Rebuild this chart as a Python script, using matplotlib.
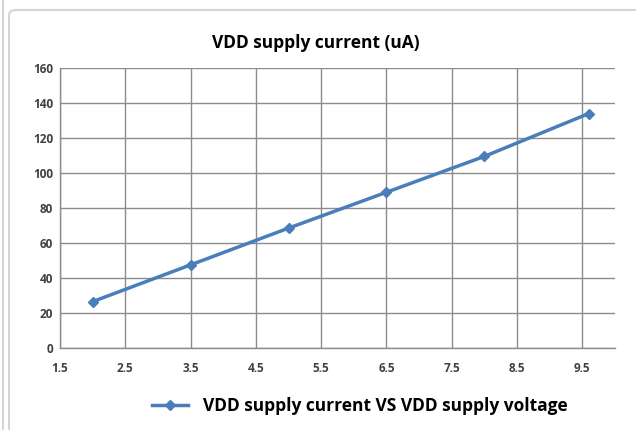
import matplotlib
matplotlib.use("Agg")
import matplotlib.pyplot as plt
from matplotlib.patches import FancyBboxPatch
from matplotlib.lines import Line2D

voltage = [2.0, 3.5, 5.0, 6.5, 8.0, 9.6]
current = [26.5, 47.5, 68.5, 89.0, 109.5, 134.0]
x_ticks = [1.5, 2.5, 3.5, 4.5, 5.5, 6.5, 7.5, 8.5, 9.5]
y_ticks = [0, 20, 40, 60, 80, 100, 120, 140, 160]
title = "VDD supply current (uA)"
series_label = "VDD supply current VS VDD supply voltage"

plt.rcParams['font.family'] = ['Open Sans', 'DejaVu Sans']

W, H = 636, 430
fig = plt.figure(figsize=(W / 100, H / 100), dpi=100)
fig.patch.set_facecolor('white')

# chart frame
frame = FancyBboxPatch((9 / W, -0.05), 1.0, 1 - 10 / H + 0.05,
                       boxstyle="round,pad=0,rounding_size=0.012",
                       transform=fig.transFigure, fill=False,
                       edgecolor='#d4d4d4', linewidth=1.5)
fig.add_artist(frame)
fig.add_artist(Line2D([3 / W, 3 / W], [0, 1], transform=fig.transFigure,
                      color='#d4d4d4', linewidth=1.5))

ax = fig.add_axes([60 / W, (H - 348) / H, (615 - 60) / W, (348 - 68) / H])
color = '#4a7ebb'
ax.plot(voltage, current, color=color, linewidth=2.5, marker='D',
        markersize=5.5, label=series_label)

ax.set_xlim(1.5, 10.0)
ax.set_ylim(0, 160)
ax.set_xticks(x_ticks)
ax.set_yticks(y_ticks)
ax.set_xticklabels([f"{v:g}" for v in x_ticks])
ax.grid(True, color='#8c8c8c', linewidth=1.0)
ax.set_axisbelow(True)
for s in ['top', 'right']:
    ax.spines[s].set_visible(False)
for s in ['left', 'bottom']:
    ax.spines[s].set_color('#8c8c8c')
    ax.spines[s].set_linewidth(1.0)
ax.tick_params(length=0, labelsize=8.5, labelcolor='#404040', pad=5)
for lab in ax.get_xticklabels() + ax.get_yticklabels():
    lab.set_fontweight('bold')
ax.tick_params(axis='x', pad=10)

fig.text(316 / W, 1 - 43 / H, title, ha='center', va='center',
         fontsize=12.5, fontweight='bold', color='black')

leg = fig.legend(loc='center', bbox_to_anchor=(360 / W, 1 - 406 / H),
                 frameon=False, prop={'weight': 'bold', 'size': 12.5},
                 handlelength=2.1, handletextpad=0.85)

fig.savefig('out.png', dpi=100)
